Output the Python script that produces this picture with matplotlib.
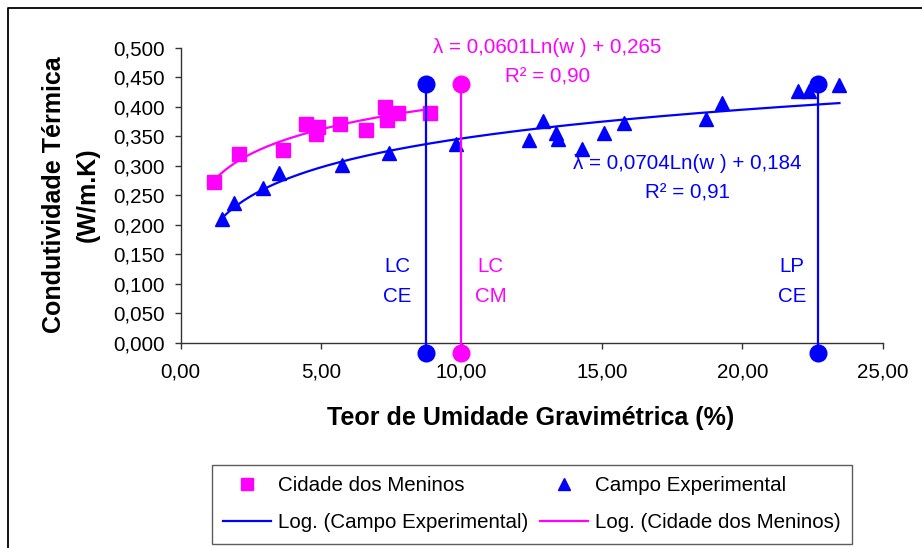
import numpy as np
import matplotlib
matplotlib.use("Agg")
import matplotlib.pyplot as plt
from matplotlib.lines import Line2D
from matplotlib.ticker import FuncFormatter, MultipleLocator

plt.rcParams['font.family'] = ['Liberation Sans', 'DejaVu Sans']

BLUE = '#0000ff'
PINK = '#ff00ff'

# Cidade dos Meninos (squares)
cm_w = [1.18, 2.09, 3.63, 4.46, 4.88, 4.81, 5.68, 6.59, 7.28, 7.73, 7.36, 8.88]
cm_k = [0.273, 0.320, 0.327, 0.370, 0.366, 0.354, 0.370, 0.361, 0.400, 0.390, 0.377, 0.390]

# Campo Experimental (triangles)
ce_w = [1.46, 1.90, 2.94, 3.51, 5.74, 7.42, 9.81, 12.41, 12.90, 13.35, 13.45,
        14.29, 15.06, 15.80, 18.69, 19.27, 22.00, 22.36, 23.46]
ce_k = [0.209, 0.236, 0.262, 0.288, 0.302, 0.322, 0.336, 0.344, 0.375, 0.355, 0.346,
        0.329, 0.356, 0.373, 0.380, 0.406, 0.427, 0.427, 0.437]

# log trendlines: k = a*ln(w) + b
cm_a, cm_b, cm_r2 = 0.0601, 0.265, 0.90
ce_a, ce_b, ce_r2 = 0.0704, 0.184, 0.91

# LC / LP limit markers
lim_w = [8.72, 9.99, 22.7]
lim_colors = [BLUE, PINK, BLUE]
lim_top = 0.438
lim_bottom = -0.018
lim_text = [("LC", "CE"), ("LC", "CM"), ("LP", "CE")]
lim_text_w = [7.71, 11.04, 21.77]

fs = 14.8

fig = plt.figure(figsize=(9.22, 5.48), dpi=100)
ax = fig.add_axes([180.7 / 922, (548 - 342.7) / 548, 702 / 922, 295 / 548])

# trendlines
for w, a, b, c in [(cm_w, cm_a, cm_b, PINK), (ce_w, ce_a, ce_b, BLUE)]:
    xs = np.linspace(min(w), max(w), 200)
    ax.plot(xs, a * np.log(xs) + b, color=c, lw=1.6, zorder=2)

ax.plot(cm_w, cm_k, 's', color=PINK, ms=9.5, mec=PINK, zorder=3)
ax.plot(ce_w, ce_k, '^', color=BLUE, ms=10.5, mec=BLUE, zorder=3)

for w, c, txt, tw in zip(lim_w, lim_colors, lim_text, lim_text_w):
    ax.plot([w, w], [lim_bottom, lim_top], color=c, lw=1.6, marker='o', ms=12,
            clip_on=False, zorder=4)
    ax.text(tw, 0.129, txt[0], color=c, fontsize=fs, ha='center', va='center')
    ax.text(tw, 0.078, txt[1], color=c, fontsize=fs, ha='center', va='center')

# equations
ax.text(13.05, 0.501, "λ = 0,0601Ln(w ) + 0,265", color=PINK, fontsize=fs,
        ha='center', va='center', clip_on=False)
ax.text(13.05, 0.451, "R² = 0,90", color=PINK, fontsize=fs, ha='center', va='center')
ax.text(18.05, 0.304, "λ = 0,0704Ln(w ) + 0,184", color=BLUE, fontsize=fs,
        ha='center', va='center')
ax.text(18.05, 0.254, "R² = 0,91", color=BLUE, fontsize=fs, ha='center', va='center')

ax.set_xlim(0, 25)
ax.set_ylim(0, 0.5)
ax.xaxis.set_major_locator(MultipleLocator(5))
ax.yaxis.set_major_locator(MultipleLocator(0.05))
ax.xaxis.set_major_formatter(FuncFormatter(lambda v, p: f"{v:.2f}".replace('.', ',')))
ax.yaxis.set_major_formatter(FuncFormatter(lambda v, p: f"{v:.3f}".replace('.', ',')))
ax.tick_params(axis='both', labelsize=fs, length=4.5, width=1, color='#333333')
ax.tick_params(axis='y', pad=7)
ax.tick_params(axis='x', pad=10)
for s in ['top', 'right']:
    ax.spines[s].set_visible(False)
for s in ['left', 'bottom']:
    ax.spines[s].set_color('#333333')
    ax.spines[s].set_linewidth(1)

fig.text(531 / 922, 1 - 418 / 548, "Teor de Umidade Gravimétrica (%)", fontsize=18,
         fontweight='bold', ha='center', va='center')
fig.text(54 / 922, 1 - 195 / 548, "Condutividade Térmica", fontsize=18,
         fontweight='bold', ha='center', va='center', rotation=90)
fig.text(88 / 922, 1 - 195 / 548, "(W/m.K)", fontsize=18,
         fontweight='bold', ha='center', va='center', rotation=90)

handles = [
    Line2D([], [], ls='none', marker='s', color=PINK, ms=9),
    Line2D([], [], color=BLUE, lw=1.6),
    Line2D([], [], ls='none', marker='^', color=BLUE, ms=9),
    Line2D([], [], color=PINK, lw=1.6),
]
labels = ["Cidade dos Meninos", "Log. (Campo Experimental)",
          "Campo Experimental", "Log. (Cidade dos Meninos)"]
leg = fig.legend(handles, labels, ncol=2, loc='upper left',
                 bbox_to_anchor=(212 / 922, 1 - 465 / 548), fontsize=fs,
                 frameon=True, fancybox=False, edgecolor='#333333',
                 handlelength=2.3, handletextpad=0.35, columnspacing=0.6,
                 labelspacing=0.88, borderpad=0.55, borderaxespad=0)
leg.get_frame().set_linewidth(1)

# outer chart border
fig.add_artist(Line2D([7.5 / 922, 7.5 / 922, 1.0], [0.0, 1 - 8.3 / 548, 1 - 8.3 / 548],
                      transform=fig.transFigure, color='black', lw=1.3))

fig.savefig("out.png", dpi=100)
